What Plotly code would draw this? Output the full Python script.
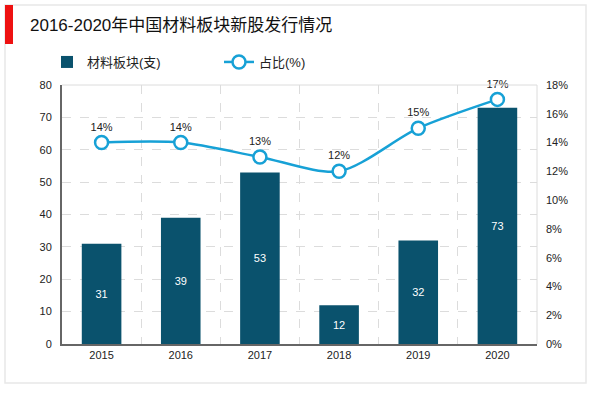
import plotly.graph_objects as go

years = ["2015", "2016", "2017", "2018", "2019", "2020"]
counts = [31, 39, 53, 12, 32, 73]
shares = [14, 14, 13, 12, 15, 17]
left_ticks = [0, 10, 20, 30, 40, 50, 60, 70, 80]
right_ticks = [0, 2, 4, 6, 8, 10, 12, 14, 16, 18]

BAR = "#0a526d"
LINE = "#17a1d6"
W, H = 600, 393
L, R, T, B = 62, 537, 85, 344

def px_x(p):
    return (p - L) / (R - L)

def px_y(p):
    return (B - p) / (B - T)

xs = list(range(len(years)))

fig = go.Figure()
fig.add_trace(go.Bar(
    x=xs, y=counts, name="材料板块(支)", marker=dict(color=BAR, line=dict(width=0)),
    width=0.5, text=[str(v) for v in counts], textposition="inside",
    insidetextanchor="middle", textfont=dict(color="white", size=11),
    yaxis="y"))
fig.add_trace(go.Scatter(
    x=xs, y=shares, name="占比(%)", mode="lines+markers+text",
    line=dict(color=LINE, width=2.5, shape="spline", smoothing=0.8),
    marker=dict(symbol="circle", size=13, color="white", line=dict(color=LINE, width=2.5)),
    text=[f"{v}%" for v in shares], textposition="top center",
    textfont=dict(color="#222", size=11), yaxis="y2", cliponaxis=False))

fig.update_layout(
    width=W, height=H, margin=dict(l=L, r=W - R, t=T, b=H - B),
    paper_bgcolor="white", plot_bgcolor="white",
    font=dict(family="Arial, Liberation Sans, Noto Sans CJK SC", size=11, color="#222"),
    showlegend=True, bargap=0.5,
    legend=dict(orientation="h", x=px_x(47), y=px_y(62), xanchor="left", yanchor="middle",
                font=dict(size=13, color="#222"), itemwidth=30, tracegroupgap=0,
                bgcolor="rgba(0,0,0,0)", entrywidth=127),
    xaxis=dict(range=[-0.5, 5.5], tickvals=xs, ticktext=years, showgrid=False,
               showline=True, linecolor="#666", linewidth=2, ticks="", zeroline=False,
               tickfont=dict(size=11, color="#222"),
               minor=dict(tickvals=[i + 0.5 for i in xs[:-1]], showgrid=True,
                          gridcolor="#dcdcdc", griddash="dash", gridwidth=1, ticks="")),
    yaxis=dict(range=[0, 80], tickvals=left_ticks, showgrid=True, gridcolor="#dcdcdc",
               griddash="dash", showline=True, linecolor="#666", linewidth=2,
               zeroline=False, ticks="", tickfont=dict(size=11, color="#222"),
               ticklabelstandoff=6),
    yaxis2=dict(range=[0, 18], tickvals=right_ticks, ticktext=[f"{v}%" for v in right_ticks],
                overlaying="y", side="right", showgrid=False, showline=False,
                zeroline=False, ticks="", tickfont=dict(size=11, color="#222"),
                ticklabelstandoff=8),
)

# plot frame top/right light
fig.add_shape(type="line", xref="paper", yref="paper", x0=0, x1=1, y0=1, y1=1,
              line=dict(color="#dcdcdc", width=1))
fig.add_shape(type="line", xref="paper", yref="paper", x0=1, x1=1, y0=0, y1=1,
              line=dict(color="#dcdcdc", width=1))
# outer frame
fig.add_shape(type="rect", xref="paper", yref="paper", x0=px_x(5), x1=px_x(586),
              y0=px_y(383), y1=px_y(5), line=dict(color="#e8e8e8", width=1.5), layer="below")
# red bar
fig.add_shape(type="rect", xref="paper", yref="paper", x0=px_x(5), x1=px_x(13),
              y0=px_y(44), y1=px_y(5), line=dict(width=0), fillcolor="#ee1111")
fig.add_annotation(text="2016-2020年中国材料板块新股发行情况", xref="paper", yref="paper",
                   x=px_x(28), y=px_y(25), xanchor="left", yanchor="middle", showarrow=False,
                   font=dict(size=17, color="#111"))

fig.write_html("out.html", config={"displayModeBar": False},
               post_script="document.body.style.margin='0';document.body.style.overflow='hidden';")
